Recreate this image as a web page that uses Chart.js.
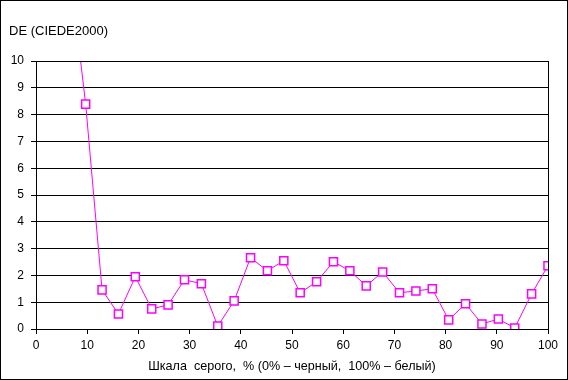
<!DOCTYPE html>
<html><head><meta charset="utf-8">
<script src="https://cdn.jsdelivr.net/npm/chart.js@4/dist/chart.umd.min.js"></script>
<style>html,body{margin:0;padding:0;background:#fff}#wrap{width:568px;height:380px}</style>
</head><body><div id="wrap"><canvas id="c" width="568" height="380"></canvas></div>
<script>
const grayLevels = [6.5, 9.7, 12.9, 16.1, 19.4, 22.6, 25.8, 29.0, 32.3, 35.5, 38.7, 41.9, 45.2, 48.4, 51.6, 54.8, 58.1, 61.3, 64.5, 67.7, 71.0, 74.2, 77.4, 80.6, 83.9, 87.1, 90.3, 93.5, 96.8, 100];
const deValues = [13.6, 8.39, 1.46, 0.56, 1.95, 0.75, 0.90, 1.84, 1.69, 0.11, 1.05, 2.66, 2.17, 2.55, 1.35, 1.76, 2.51, 2.17, 1.61, 2.13, 1.35, 1.42, 1.50, 0.34, 0.94, 0.19, 0.37, 0.04, 1.31, 2.36];
const yTitle = 'DE (CIEDE2000)';
const xTitle = 'Шкала  серого,  % (0% – черный,  100% – белый)';
const FONT = "'Liberation Sans', Arial, sans-serif";

const frame = {
  id: 'frame',
  afterDraw(chart) {
    const ctx = chart.ctx, a = chart.chartArea;
    ctx.save();
    ctx.strokeStyle = '#000'; ctx.lineWidth = 1;
    ctx.strokeRect(0.5, 0.5, 567, 379);
    ctx.strokeRect(Math.round(a.left) + 0.5, Math.round(a.top) + 0.5, Math.round(a.right - a.left), Math.round(a.bottom - a.top));
    ctx.fillStyle = '#000';
    ctx.font = '13px ' + FONT;
    ctx.textBaseline = 'middle';
    ctx.textAlign = 'left';
    ctx.fillText(yTitle, 9, 31);
    ctx.restore();
  }
};

new Chart(document.getElementById('c'), {
  type: 'line',
  data: {
    datasets: [{
      data: grayLevels.map((x, i) => ({x: x, y: deValues[i]})),
      borderColor: '#FF00FF',
      borderWidth: 1,
      pointStyle: 'rect',
      pointRadius: 5.7,
      pointBorderWidth: 1.5,
      pointBackgroundColor: '#FFFFFF',
      pointBorderColor: '#FF00FF',
      tension: 0,
      clip: 0
    }]
  },
  options: {
    responsive: false,
    animation: false,
    devicePixelRatio: 1,
    layout: {padding: {left: 0, right: 20, top: 61, bottom: 0}},
    plugins: {legend: {display: false}, tooltip: {enabled: false}, title: {display: false}},
    scales: {
      x: {
        type: 'linear', min: 0, max: 100,
        afterFit(s) { s.height = 51; },
        ticks: {stepSize: 10, color: '#000', font: {size: 12, family: FONT}, padding: 4, maxRotation: 0},
        grid: {drawOnChartArea: false, drawTicks: true, tickLength: 5, tickColor: '#000', color: '#000'},
        border: {display: true, color: '#000', width: 1},
        title: {display: true, text: xTitle, color: '#000', font: {size: 12.6, family: FONT}, padding: {top: 2, bottom: 6}}
      },
      y: {
        min: 0, max: 10,
        afterFit(s) { s.width = 36; },
        ticks: {stepSize: 1, color: '#000', font: {size: 12, family: FONT}, padding: 7},
        grid: {color: '#000', lineWidth: 1, drawTicks: true, tickLength: 5, tickColor: '#000'},
        border: {display: true, color: '#000', width: 1}
      }
    }
  },
  plugins: [frame]
});
</script></body></html>
